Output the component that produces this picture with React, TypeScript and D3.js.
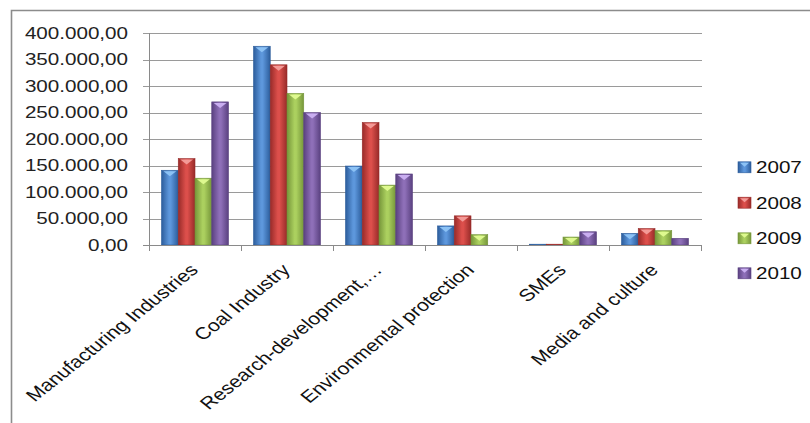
import React from "react";
import * as d3 from "d3";

const categories = [
  "Manufacturing Industries",
  "Coal Industry",
  "Research-development,…",
  "Environmental protection",
  "SMEs",
  "Media and culture",
];
const seriesNames = ["2007", "2008", "2009", "2010"];
const values2007 = [141000, 375000, 149000, 36000, 1500, 22000];
const values2008 = [163000, 340000, 231000, 55000, 1500, 31000];
const values2009 = [126000, 286000, 113000, 19500, 15000, 27000];
const values2010 = [270000, 250000, 134000, 0, 25000, 12600];
const yTicks = [0, 50000, 100000, 150000, 200000, 250000, 300000, 350000, 400000];

const seriesValues = [values2007, values2008, values2009, values2010];

const palette = [
  { edge: "#2c5d9c", mid: "#5d97dc", hi: "#8cc2f5" },
  { edge: "#982b29", mid: "#dc4f4b", hi: "#f39a97" },
  { edge: "#76963a", mid: "#abd05f", hi: "#def98f" },
  { edge: "#5a4180", mid: "#8e6fb8", hi: "#c9aef0" },
];

const FONT = "'Liberation Sans', Arial, sans-serif";
const FS = 16.5;
const XFS = 17;
const SX = 1.25;

const W = 810;
const H = 423;
const plotLeft = 149;
const plotRight = 701;
const plotTop = 33;
const plotBottom = 245;

export default function App() {
  const x0 = d3.scaleBand<string>().domain(categories).range([plotLeft, plotRight]).padding(0);
  const groupPad = 12.5;
  const x1 = d3
    .scaleBand<string>()
    .domain(seriesNames)
    .range([0, x0.bandwidth() - 2 * groupPad])
    .padding(0);
  const y = d3.scaleLinear().domain([0, 400000]).range([plotBottom, plotTop]);
  const locale = d3.formatLocale({ decimal: ",", thousands: ".", grouping: [3], currency: ["", ""] });
  const fmt = locale.format(",.2f");

  const legendY = [167.3, 202.7, 238.3, 273.3];

  return (
    <svg
      width={W}
      height={H}
      style={{ position: "absolute", left: 0, top: 0, background: "#fff" }}
    >
      <defs>
        {palette.map((p, i) => (
          <linearGradient key={i} id={`g${i}`} x1="0" x2="1" y1="0" y2="0">
            <stop offset="0" stopColor={p.edge} />
            <stop offset="0.45" stopColor={p.mid} />
            <stop offset="0.55" stopColor={p.mid} />
            <stop offset="1" stopColor={p.edge} />
          </linearGradient>
        ))}
      </defs>
      {/* frame */}
      <path d={`M11.5,${H + 2} V10.5 H${W + 2}`} fill="none" stroke="#8c8c8c" strokeWidth={1.6} />

      {/* gridlines + y ticks */}
      {yTicks.map((t) => (
        <g key={t}>
          <line
            x1={plotLeft - 6}
            x2={plotRight + 1}
            y1={Math.round(y(t)) + 0.5}
            y2={Math.round(y(t)) + 0.5}
            stroke="#9a9a9a"
            strokeWidth={1}
          />
          <text
            transform={`translate(128,${y(t)}) scale(${SX},1)`}
            textAnchor="end"
            dy="0.36em"
            fontFamily={FONT}
            fontSize={FS}
            fill="#222"
          >
            {fmt(t)}
          </text>
        </g>
      ))}
      {/* y axis line */}
      <line x1={plotLeft + 0.5} x2={plotLeft + 0.5} y1={plotTop} y2={plotBottom + 6} stroke="#8a8a8a" />
      {/* category ticks */}
      {d3.range(categories.length + 1).map((i) => {
        const xx = Math.round(plotLeft + i * x0.step()) + 0.5;
        return <line key={i} x1={xx} x2={xx} y1={plotBottom} y2={plotBottom + 6} stroke="#8a8a8a" />;
      })}

      {/* bars */}
      {categories.map((c, ci) => (
        <g key={c} transform={`translate(${(x0(c) ?? 0) + groupPad},0)`}>
          {seriesNames.map((s, si) => {
            const v = seriesValues[si][ci];
            if (v <= 0) return null;
            const bx = x1(s) ?? 0;
            const bw = x1.bandwidth();
            const top = y(v);
            const h = plotBottom - top;
            return (
              <g key={s}>
                <rect x={bx} y={top} width={bw} height={h} fill={`url(#g${si})`} stroke={palette[si].edge} strokeWidth={0.6} />
                {h > 7 && (
                  <polygon
                    points={`${bx + 2},${top + 1} ${bx + bw - 2},${top + 1} ${bx + bw / 2},${top + 6}`}
                    fill={palette[si].hi}
                  />
                )}
              </g>
            );
          })}
        </g>
      ))}
      {/* baseline */}
      <line x1={plotLeft - 6} x2={plotRight + 1} y1={plotBottom + 0.5} y2={plotBottom + 0.5} stroke="#8a8a8a" />

      {/* x labels */}
      {categories.map((c) => {
        const cx = (x0(c) ?? 0) + x0.bandwidth() / 2;
        return (
          <text
            key={c}
            transform={`translate(${cx - 7},262) scale(${SX},1) rotate(-45)`}
            textAnchor="end"
            dy="0.75em"
            fontFamily={FONT}
            fontSize={XFS}
            fill="#111"
          >
            {c}
          </text>
        );
      })}

      {/* legend */}
      {seriesNames.map((s, i) => (
        <g key={s} transform={`translate(738,${legendY[i]})`}>
          <rect x={0} y={-5.5} width={13} height={11} fill={`url(#g${i})`} stroke={palette[i].edge} strokeWidth={0.6} />
          <polygon points={`2,-4.5 11,-4.5 6.5,-0.5`} fill={palette[i].hi} />
          <text
            transform={`translate(18,0) scale(${SX},1)`}
            dy="0.36em"
            fontFamily={FONT}
            fontSize={FS}
            fill="#111"
          >
            {s}
          </text>
        </g>
      ))}
    </svg>
  );
}
